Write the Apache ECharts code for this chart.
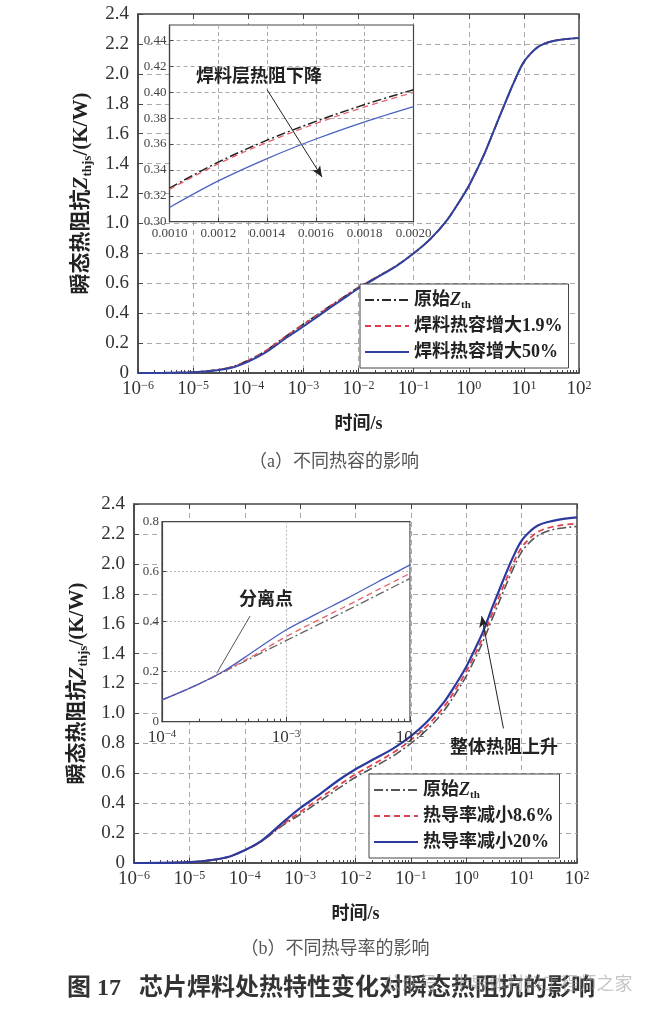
<!DOCTYPE html>
<html>
<head>
<meta charset="utf-8">
<title>芯片焊料处热特性变化对瞬态热阻抗的影响</title>
<script src="https://cdn.jsdelivr.net/npm/echarts@6.0.0/dist/echarts.min.js"></script>
<style>
  html, body { margin: 0; padding: 0; background: #fff; }
  #chart { width: 667px; height: 1011px; }
</style>
</head>
<body>
<div id="chart"></div>
<script>
// 主图时间点 (s)
const tMain = [1e-6, 3e-6, 1e-5, 2e-5, 5e-5, 1e-4, 2e-4, 5e-4, 1e-3, 2e-3, 5e-3, 1e-2, 2e-2, 5e-2, 0.1, 0.2, 0.4, 0.7, 1, 1.5, 2, 3, 5, 7, 10, 15, 20, 30, 50, 100]

// (a) 不同热容
const zOrigA = [0, 0.001, 0.006, 0.015, 0.04, 0.085, 0.145, 0.25, 0.326, 0.402, 0.50, 0.572, 0.635, 0.72, 0.80, 0.895, 1.02, 1.155, 1.25, 1.38, 1.48, 1.64, 1.84, 1.965, 2.08, 2.155, 2.19, 2.215, 2.23, 2.24]
const zCap19 = [0, 0.001, 0.006, 0.015, 0.04, 0.084, 0.144, 0.249, 0.325, 0.400, 0.499, 0.571, 0.635, 0.72, 0.80, 0.895, 1.02, 1.155, 1.25, 1.38, 1.48, 1.64, 1.84, 1.965, 2.08, 2.155, 2.19, 2.215, 2.23, 2.24]
const zCap50 = [0, 0.001, 0.005, 0.013, 0.035, 0.076, 0.134, 0.237, 0.311, 0.389, 0.49, 0.565, 0.631, 0.718, 0.80, 0.895, 1.02, 1.155, 1.25, 1.38, 1.48, 1.64, 1.84, 1.965, 2.08, 2.155, 2.19, 2.215, 2.23, 2.24]

// (a) 局部放大
const tInsetA = [0.0010, 0.0012, 0.0014, 0.0016, 0.0018, 0.0020]
const insOrigA = [0.326, 0.346, 0.363, 0.3775, 0.3905, 0.402]
const insCap19 = [0.325, 0.3447, 0.3614, 0.3759, 0.3887, 0.400]
const insCap50 = [0.311, 0.3315, 0.3488, 0.3639, 0.3772, 0.389]

// (b) 不同热导率
const zOrigB = [0, 0.001, 0.006, 0.015, 0.04, 0.085, 0.145, 0.255, 0.324, 0.40, 0.50, 0.573, 0.635, 0.72, 0.80, 0.895, 1.02, 1.155, 1.25, 1.38, 1.48, 1.64, 1.84, 1.965, 2.08, 2.155, 2.19, 2.22, 2.238, 2.25]
const zK86 = [0, 0.001, 0.006, 0.015, 0.04, 0.085, 0.146, 0.262, 0.340, 0.418, 0.52, 0.593, 0.656, 0.742, 0.822, 0.92, 1.047, 1.183, 1.28, 1.41, 1.51, 1.675, 1.875, 2.0, 2.11, 2.18, 2.215, 2.24, 2.257, 2.27]
const zK20 = [0, 0.001, 0.006, 0.015, 0.04, 0.086, 0.148, 0.275, 0.367, 0.445, 0.555, 0.627, 0.688, 0.77, 0.848, 0.948, 1.077, 1.215, 1.312, 1.445, 1.545, 1.715, 1.92, 2.045, 2.155, 2.225, 2.258, 2.28, 2.297, 2.31]

// (b) 局部放大
const tInsetB = [1e-4, 1.78e-4, 3.16e-4, 5.62e-4, 1e-3, 1.78e-3, 3.16e-3, 5.62e-3, 1e-2]
const insOrigB = [0.087, 0.14, 0.2, 0.262, 0.324, 0.386, 0.447, 0.51, 0.573]
const insK86 = [0.087, 0.14, 0.201, 0.268, 0.34, 0.404, 0.466, 0.53, 0.593]
const insK20 = [0.087, 0.14, 0.203, 0.285, 0.367, 0.432, 0.495, 0.562, 0.627]

const legendText = {
  a0: '原始{i|Z}{sub|th}',
  a1: '焊料热容增大1.9%',
  a2: '焊料热容增大50%',
  b0: '原始{i|Z}{sub|th}',
  b1: '热导率减小8.6%',
  b2: '热导率减小20%'
}

const serif = '"Liberation Serif", "Noto Sans CJK SC", serif'
const dashDot = [9, 3, 2, 3]
const dashed = [6, 4]

// 对数轴次刻度 2..9
const minorTicks = (lo, hi) => {
  const out = []
  for (let e = lo; e < hi; e++) {
    for (let m = 2; m <= 9; m++) out.push(+(m + 'e' + e))
  }
  return out
}

const expLabel = v => {
  const e = Math.round(Math.log10(v))
  return '10{sup|' + (e < 0 ? '\u2212' + (-e) : e) + '}'
}

const supRich = (size) => ({
  sup: { fontSize: Math.round(size * 0.62), fontFamily: serif, verticalAlign: 'top', color: '#333', padding: [0, 0, 6, 0] }
})

const line = (name, xi, yi, xs, ys, color, type, width, z) => ({
  name,
  type: 'line',
  xAxisIndex: xi,
  yAxisIndex: yi,
  data: xs.map((x, i) => [x, ys[i]]),
  showSymbol: false,
  symbol: 'none',
  smooth: 0.35,
  z,
  lineStyle: { color, type, width },
  itemStyle: { color },
  animation: false
})

const gridLine = { show: true, lineStyle: { color: '#aaa', type: [5, 4], width: 1 }, showMinLine: false, showMaxLine: false }

const mainX = (gridIndex, withName) => ({
  type: 'log', logBase: 10, gridIndex, min: 1e-6, max: 100, position: 'bottom',
  axisLine: { show: true, lineStyle: { color: '#444', width: 1.5 } },
  axisTick: { show: true, inside: true, length: 5, lineStyle: { color: '#444' } },
  axisLabel: { formatter: expLabel, fontFamily: serif, fontSize: 19, color: '#333', margin: 7, rich: supRich(19) },
  splitLine: gridLine,
  name: withName ? '时间/s' : '',
  nameLocation: 'middle', nameGap: 42,
  nameTextStyle: { fontFamily: serif, fontSize: 18, fontWeight: 'bold', color: '#222' }
})
const topX = gridIndex => ({
  type: 'log', logBase: 10, gridIndex, min: 1e-6, max: 100, position: 'top',
  axisLine: { show: false }, axisLabel: { show: false }, splitLine: { show: false },
  axisTick: { show: true, inside: true, length: 5, lineStyle: { color: '#444' } }
})
const minorX = (gridIndex, min, max, lo, hi, z) => ({
  type: 'log', logBase: 10, gridIndex, min, max, position: 'bottom', z,
  axisLine: { show: false }, axisLabel: { show: false }, splitLine: { show: false },
  axisTick: { show: true, inside: true, length: 3, customValues: minorTicks(lo, hi), lineStyle: { color: '#444' } }
})
const mainY = gridIndex => ({
  type: 'value', gridIndex, min: 0, max: 2.4, interval: 0.2,
  axisLine: { show: true, lineStyle: { color: '#444', width: 1.5 } },
  axisTick: { show: true, inside: true, length: 5, lineStyle: { color: '#444' } },
  axisLabel: { formatter: v => v === 0 ? '0' : v.toFixed(1), fontFamily: serif, fontSize: 19, color: '#333', margin: 9 },
  splitLine: gridLine,
  name: '瞬态热阻抗{i|Z}{sub|thjs}/(K/W)',
  nameLocation: 'middle', nameGap: 40, nameRotate: 90,
  nameTextStyle: {
    fontFamily: serif, fontSize: 21, fontWeight: 'bold', color: '#222', lineHeight: 26,
    rich: {
      i: { fontFamily: serif, fontSize: 21, fontStyle: 'italic', color: '#222', lineHeight: 26 },
      sub: { fontFamily: serif, fontSize: 13, fontWeight: 'bold', color: '#222', verticalAlign: 'bottom', lineHeight: 26 }
    }
  }
})

const legendBox = (names, left, top) => ({
  data: names,
  orient: 'vertical',
  left, top,
  itemWidth: 44, itemHeight: 14, itemGap: 4,
  padding: [5, 6, 5, 4],
  backgroundColor: '#fff', borderColor: '#444', borderWidth: 1, borderRadius: 0,
  selectedMode: false,
  z: 10,
  itemStyle: { opacity: 0 },
  formatter: n => legendText[n],
  textStyle: {
    fontFamily: serif, fontSize: 18, fontWeight: 'bold', color: '#222', lineHeight: 22,
    rich: {
      i: { fontFamily: serif, fontSize: 18, fontStyle: 'italic', color: '#222', lineHeight: 22 },
      sub: { fontFamily: serif, fontSize: 11, color: '#222', verticalAlign: 'bottom', lineHeight: 22 }
    }
  }
})

const txt = (text, x, y, size, weight, color) => ({
  type: 'text', x, y, z: 100,
  style: { text, fontFamily: serif, fontSize: size, fontWeight: weight, fill: color, align: 'center', verticalAlign: 'middle' }
})

const chart = echarts.init(document.getElementById('chart'), null, { renderer: 'canvas' })

const option = {
  backgroundColor: '#fff',
  animation: false,
  grid: [
    { left: 138, top: 14, width: 441, height: 359, show: true, borderColor: '#444', borderWidth: 1.5, backgroundColor: 'transparent', containLabel: false, outerBoundsMode: 'none' },
    { left: 169.5, top: 25, width: 244, height: 196.7, show: true, borderColor: '#444', borderWidth: 1.2, backgroundColor: '#fff', z: 3, containLabel: false, outerBoundsMode: 'none' },
    { left: 134, top: 504, width: 443, height: 359, show: true, borderColor: '#444', borderWidth: 1.5, backgroundColor: 'transparent', containLabel: false, outerBoundsMode: 'none' },
    { left: 162, top: 521.7, width: 248, height: 200, show: true, borderColor: '#444', borderWidth: 1.2, backgroundColor: '#fff', z: 3, containLabel: false, outerBoundsMode: 'none' }
  ],
  xAxis: [
    mainX(0, true),
    topX(0),
    minorX(0, 1e-6, 100, -6, 2, 0),
    {
      type: 'value', gridIndex: 1, min: 0.001, max: 0.002, interval: 0.0002, z: 4,
      axisLine: { show: true, lineStyle: { color: '#444', width: 1.2 } },
      axisTick: { show: true, inside: true, length: 4, lineStyle: { color: '#444' } },
      axisLabel: { formatter: v => v.toFixed(4), fontFamily: serif, fontSize: 13, color: '#444', margin: 5 },
      splitLine: { show: true, lineStyle: { color: '#aaa', type: [4, 3] }, showMinLine: false, showMaxLine: false }
    },
    mainX(2, true),
    topX(2),
    minorX(2, 1e-6, 100, -6, 2, 0),
    {
      type: 'log', logBase: 10, gridIndex: 3, min: 1e-4, max: 1e-2, z: 4,
      axisLine: { show: true, lineStyle: { color: '#444', width: 1.2 } },
      axisTick: { show: true, inside: true, length: 5, lineStyle: { color: '#444' } },
      axisLabel: { formatter: expLabel, fontFamily: serif, fontSize: 17, color: '#333', margin: 7, rich: supRich(17) },
      splitLine: { show: true, lineStyle: { color: '#bbb', type: [2, 2] }, showMinLine: false, showMaxLine: false }
    },
    minorX(3, 1e-4, 1e-2, -4, -2, 4)
  ],
  yAxis: [
    mainY(0),
    {
      type: 'value', gridIndex: 1, min: 0.30, max: 0.452, interval: 0.02, z: 4,
      axisLine: { show: true, lineStyle: { color: '#444', width: 1.2 } },
      axisTick: { show: true, inside: true, length: 4, lineStyle: { color: '#444' } },
      axisLabel: { formatter: v => v.toFixed(2), fontFamily: serif, fontSize: 13, color: '#444', margin: 3, showMaxLabel: false },
      splitLine: { show: true, lineStyle: { color: '#aaa', type: [4, 3] }, showMinLine: false, showMaxLine: false }
    },
    mainY(2),
    {
      type: 'value', gridIndex: 3, min: 0, max: 0.8, interval: 0.2, z: 4,
      axisLine: { show: true, lineStyle: { color: '#444', width: 1.2 } },
      axisTick: { show: true, inside: true, length: 4, lineStyle: { color: '#444' } },
      axisLabel: { formatter: v => v === 0 ? '0' : v.toFixed(1), fontFamily: serif, fontSize: 13, color: '#444', margin: 3 },
      splitLine: { show: true, lineStyle: { color: '#bbb', type: [2, 2] }, showMinLine: false, showMaxLine: false }
    }
  ],
  legend: [
    legendBox(['a0', 'a1', 'a2'], 360, 284),
    legendBox(['b0', 'b1', 'b2'], 369, 774)
  ],
  series: [
    // (a) 主图
    line('a0', 0, 0, tMain, zOrigA, '#2a2a2a', dashDot, 1.6, 2),
    line('a1', 0, 0, tMain, zCap19, '#e0404c', dashed, 1.6, 2),
    line('a2', 0, 0, tMain, zCap50, '#2f42a0', 'solid', 2, 2),
    // (a) 局部放大
    Object.assign(line('ai0', 3, 1, tInsetA, insOrigA, '#222', dashDot, 1.5, 5), {
      markLine: {
        silent: true, symbol: ['none', 'arrow'], symbolSize: [7, 11], animation: false,
        label: { show: false },
        lineStyle: { color: '#222', type: 'solid', width: 1 },
        data: [[{ coord: [0.001400, 0.402] }, { coord: [0.001625, 0.3345] }]]
      }
    }),
    line('ai1', 3, 1, tInsetA, insCap19, '#e8606a', dashed, 1.3, 5),
    line('ai2', 3, 1, tInsetA, insCap50, '#4a62c0', 'solid', 1.3, 5),
    // (b) 主图
    Object.assign(line('b0', 4, 2, tMain, zOrigB, '#555', dashDot, 1.6, 2), {
      markLine: {
        silent: true, symbol: ['none', 'arrow'], symbolSize: [7, 11], animation: false,
        label: { show: false },
        lineStyle: { color: '#222', type: 'solid', width: 1 },
        data: [[{ coord: [4.7, 0.90] }, { coord: [1.9, 1.65] }]]
      }
    }),
    line('b1', 4, 2, tMain, zK86, '#e0404c', dashed, 1.8, 2),
    line('b2', 4, 2, tMain, zK20, '#2b3a9c', 'solid', 2.2, 2),
    // (b) 局部放大
    Object.assign(line('bi0', 7, 3, tInsetB, insOrigB, '#666', dashDot, 1.3, 5), {
      markLine: {
        silent: true, symbol: ['none', 'none'], animation: false,
        label: { show: false },
        lineStyle: { color: '#555', type: 'solid', width: 1 },
        data: [[{ coord: [5.13e-4, 0.4228] }, { coord: [2.76e-4, 0.1936] }]]
      }
    }),
    line('bi1', 7, 3, tInsetB, insK86, '#e8606a', dashed, 1.3, 5),
    line('bi2', 7, 3, tInsetB, insK20, '#4a5fc0', 'solid', 1.3, 5)
  ],
  graphic: [
    txt('焊料层热阻下降', 259, 77, 18, 'bold', '#222'),
    txt('分离点', 266, 600, 18, 'bold', '#222'),
    txt('整体热阻上升', 504, 748, 18, 'bold', '#222'),
    txt('（a）不同热容的影响', 334, 462, 18, 'normal', '#555'),
    txt('（b）不同热导率的影响', 335, 949, 18, 'normal', '#555'),
    txt('图 17   芯片焊料处热特性变化对瞬态热阻抗的影响', 331, 989, 24, 'bold', '#333'),
    txt('公众号 · 半导体材料工程师之家', 508, 985, 18, 'normal', 'rgba(150,150,150,0.55)')
  ]
}

chart.setOption(option)
window.addEventListener('resize', () => chart.resize())
</script>
</body>
</html>
